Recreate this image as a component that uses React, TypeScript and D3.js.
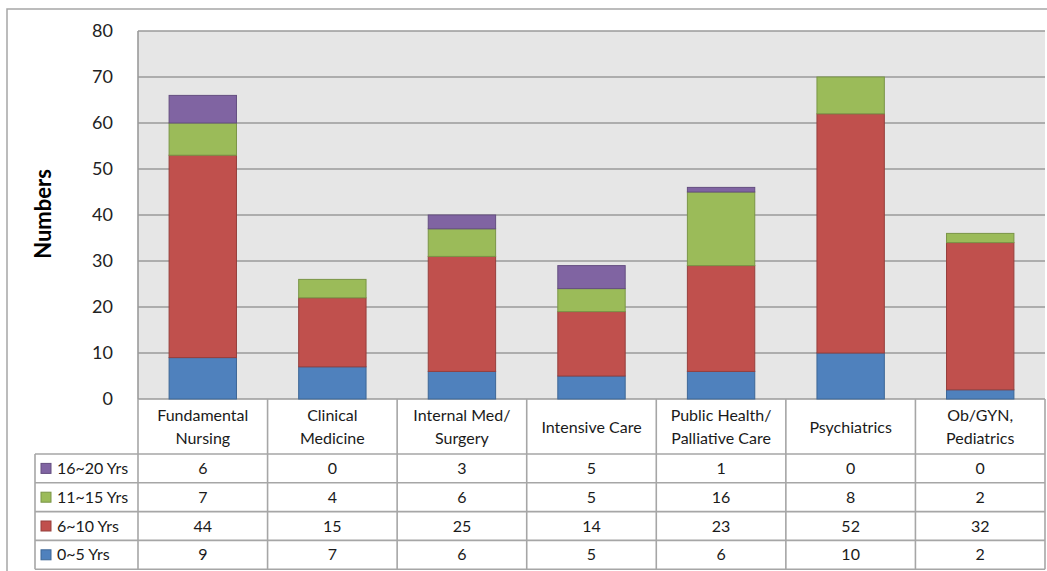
import * as d3 from "d3"

const categories = [
  ["Fundamental", "Nursing"],
  ["Clinical", "Medicine"],
  ["Internal Med/", "Surgery"],
  ["Intensive Care"],
  ["Public Health/", "Palliative Care"],
  ["Psychiatrics"],
  ["Ob/GYN,", "Pediatrics"],
]

const seriesNames = ["0~5 Yrs", "6~10 Yrs", "11~15 Yrs", "16~20 Yrs"]
const yrs0to5 = [9, 7, 6, 5, 6, 10, 2]
const yrs6to10 = [44, 15, 25, 14, 23, 52, 32]
const yrs11to15 = [7, 4, 6, 5, 16, 8, 2]
const yrs16to20 = [6, 0, 3, 5, 1, 0, 0]
const yTicks = [0, 10, 20, 30, 40, 50, 60, 70, 80]

const colors = ["#4F81BD", "#C0504D", "#9BBB59", "#8064A2"]
const strokes = ["#3d6796", "#963f3c", "#7a9546", "#644e80"]

const W = 1047
const H = 571
const plot = { left: 138, right: 1045, top: 31, bottom: 399 }
const headerBottom = 454
const rowH = 28.8
const legendLeft = 35
const font = "Lato, 'Open Sans', sans-serif"
const cellFont = 16

export default function App() {
  const series = [yrs0to5, yrs6to10, yrs11to15, yrs16to20]
  const rows = categories.map((c, i) => {
    const r: any = { idx: i }
    seriesNames.forEach((s, k) => (r[s] = series[k][i]))
    return r
  })
  const stacked = d3.stack<any>().keys(seriesNames)(rows)

  const x = d3.scaleBand<number>()
    .domain(categories.map((_, i) => i))
    .range([plot.left, plot.right])
    .padding(0)
  const y = d3.scaleLinear().domain([0, 80]).range([plot.bottom, plot.top])
  const barW = x.bandwidth() * 0.52
  const cx = (i: number) => (x(i) as number) + x.bandwidth() / 2

  // table rows, top to bottom: 16~20, 11~15, 6~10, 0~5
  const tableOrder = [3, 2, 1, 0]
  const tableBottom = headerBottom + rowH * 4

  return (
    <svg width={W} height={H} style={{ position: "fixed", left: 0, top: 0 }} fontFamily={font}>
      <rect x={0} y={0} width={W} height={H} fill="#fff" />
      <rect x={7} y={9} width={W + 10} height={H + 10} fill="none" stroke="#a6a6a6" strokeWidth={1.5} />

      {/* plot background */}
      <rect x={plot.left} y={plot.top} width={plot.right - plot.left} height={plot.bottom - plot.top} fill="#e6e6e6" />
      {yTicks.map(t => (
        <line key={t} x1={plot.left} x2={plot.right} y1={y(t)} y2={y(t)} stroke="#9a9a9a" strokeWidth={1.6} />
      ))}
      <line x1={plot.left} x2={plot.left} y1={plot.top} y2={plot.bottom} stroke="#9a9a9a" strokeWidth={1.6} />

      {/* bars */}
      {stacked.map((s, k) => (
        <g key={s.key}>
          {s.map((d, i) => d[1] - d[0] > 0 ? (
            <rect key={i} x={cx(i) - barW / 2} y={y(d[1])} width={barW} height={y(d[0]) - y(d[1])}
              fill={colors[k]} stroke={strokes[k]} strokeWidth={1} />
          ) : null)}
        </g>
      ))}

      {/* y axis labels */}
      {yTicks.map(t => (
        <text key={t} x={113} y={y(t)} dy="0.35em" textAnchor="end" fontSize={18} fill="#222">{t}</text>
      ))}
      <text transform={`translate(51,214) rotate(-90)`} textAnchor="middle"
        fontSize={22} fontWeight="bold" fill="#000">Numbers</text>

      {/* table */}
      <g stroke="#a6a6a6" strokeWidth={1.6}>
        {categories.map((_, i) => (
          <line key={i} x1={x(i)} x2={x(i)} y1={plot.bottom} y2={tableBottom} />
        ))}
        <line x1={plot.right} x2={plot.right} y1={plot.bottom} y2={tableBottom} />
        <line x1={legendLeft} x2={legendLeft} y1={headerBottom} y2={tableBottom} />
        {[0, 1, 2, 3, 4].map(r => (
          <line key={r} x1={legendLeft} x2={plot.right} y1={headerBottom + r * rowH} y2={headerBottom + r * rowH} />
        ))}
      </g>
      {categories.map((lines, i) => (
        <text key={i} x={cx(i)} textAnchor="middle" fontSize={cellFont} fill="#1a1a1a">
          {lines.map((l, j) => (
            <tspan key={j} x={cx(i)} y={lines.length === 1 ? 433 : 421 + j * 23}>{l}</tspan>
          ))}
        </text>
      ))}
      {tableOrder.map((k, r) => {
        const ry = headerBottom + r * rowH + rowH / 2
        return (
          <g key={k}>
            <rect x={41} y={ry - 5} width={10} height={10} fill={colors[k]} stroke={strokes[k]} strokeWidth={1} />
            <text x={57} y={ry} dy="0.35em" fontSize={cellFont} fill="#1a1a1a">{seriesNames[k]}</text>
            {series[k].map((v, i) => (
              <text key={i} x={cx(i)} y={ry} dy="0.35em" textAnchor="middle" fontSize={cellFont} fill="#1a1a1a">{v}</text>
            ))}
          </g>
        )
      })}
    </svg>
  )
}
